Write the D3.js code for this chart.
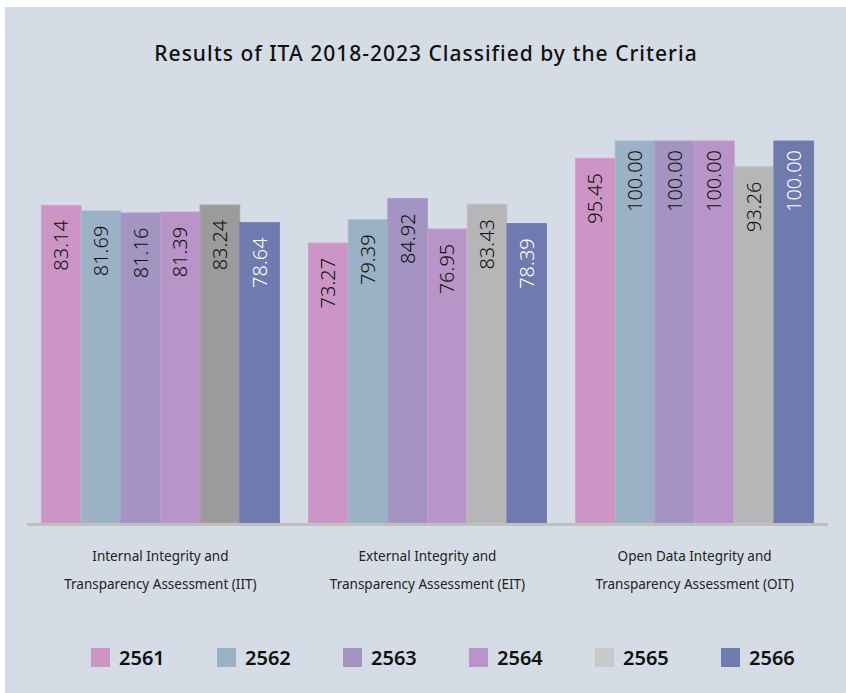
<!DOCTYPE html>
<html>
<head>
<meta charset="utf-8">
<script src="https://cdn.jsdelivr.net/npm/d3@7"></script>
<style>
  html, body { margin: 0; padding: 0; background: #ffffff; }
  svg { display: block; }
</style>
</head>
<body>
<svg id="chart" width="846" height="693"></svg>
<script>
// Assessment criteria (two-line labels)
const categories = ["IIT", "EIT", "OIT"];
const categoryLines = [
  ["Internal Integrity and", "Transparency Assessment (IIT)"],
  ["External Integrity and", "Transparency Assessment (EIT)"],
  ["Open Data Integrity and", "Transparency Assessment (OIT)"]
];
// Fiscal years (Buddhist Era)
const years = ["2561", "2562", "2563", "2564", "2565", "2566"];
// Scores per year, in category order IIT, EIT, OIT
const v2561 = [83.14, 73.27, 95.45];
const v2562 = [81.69, 79.39, 100.00];
const v2563 = [81.16, 84.92, 100.00];
const v2564 = [81.39, 76.95, 100.00];
const v2565 = [83.24, 83.43, 93.26];
const v2566 = [78.64, 78.39, 100.00];
const seriesValues = [v2561, v2562, v2563, v2564, v2565, v2566];

const seriesColors = ["#cd95c5", "#9bb1c5", "#a394c2", "#b894c9", "#b6b6b8", "#6f7aae"];
const legendColors = ["#cd95c5", "#9bb1c5", "#a394c2", "#b894c9", "#c9c9c9", "#6f7aae"];
const labelColors = ["#111", "#111", "#111", "#111", "#111", "#ffffff"];

const svg = d3.select("#chart");
const W = 846, H = 693;
const FONT = "'Noto Sans', sans-serif";

// panel background
svg.append("rect").attr("x", 5).attr("y", 7).attr("width", W - 5).attr("height", H - 7)
  .attr("fill", "#d6dce5");

// title
svg.append("text")
  .attr("x", 426).attr("y", 61)
  .attr("text-anchor", "middle")
  .attr("font-family", FONT)
  .attr("font-size", 21)
  .attr("font-weight", 500)
  .attr("letter-spacing", 1.0)
  .attr("fill", "#111")
  .text("Results of ITA 2018-2023 Classified by the Criteria");

const baseY = 523;
const x0 = d3.scaleBand().domain(categories).range([27, 828]).paddingInner(0.109).paddingOuter(0.054);
const x1 = d3.scaleBand().domain(years).range([0, x0.bandwidth()]);
const y = d3.scaleLinear().domain([0, 100]).range([baseY, 141]);

const data = [];
categories.forEach((c, ci) => {
  years.forEach((yr, si) => {
    data.push({ cat: c, ci, year: yr, si, value: seriesValues[si][ci] });
  });
});

// darker grey for the IIT 2565 bar
const barColor = d => (d.cat === "IIT" && d.year === "2565") ? "#9b9b9b" : seriesColors[d.si];

const bars = svg.append("g").selectAll("g").data(data).join("g");
bars.append("rect")
  .attr("x", d => x0(d.cat) + x1(d.year))
  .attr("y", d => y(d.value))
  .attr("width", x1.bandwidth())
  .attr("height", d => baseY - y(d.value))
  .attr("fill", barColor)
  .attr("stroke", d => d3.color(barColor(d)).brighter(0.15))
  .attr("stroke-width", 1);

// rotated value labels inside bars
bars.append("text")
  .attr("transform", d => {
    const cx = x0(d.cat) + x1(d.year) + x1.bandwidth() / 2 + 7;
    const ty = y(d.value) + 40;
    return `translate(${cx},${ty}) rotate(-90)`;
  })
  .attr("text-anchor", "middle")
  .attr("font-family", FONT)
  .attr("font-size", 20)
  .attr("font-weight", 300)
  .attr("fill", d => labelColors[d.si])
  .text(d => d.value.toFixed(2));

// baseline
svg.append("line")
  .attr("x1", 27).attr("x2", 828)
  .attr("y1", baseY + 1.5).attr("y2", baseY + 1.5)
  .attr("stroke", "#bfbfbf").attr("stroke-width", 3);

// category labels
const catG = svg.append("g");
categories.forEach((c, i) => {
  const cx = x0(c) + x0.bandwidth() / 2;
  categoryLines[i].forEach((line, li) => {
    catG.append("text")
      .attr("x", cx).attr("y", 561 + li * 28)
      .attr("text-anchor", "middle")
      .attr("font-family", FONT)
      .attr("font-size", 13.5)
      .attr("fill", "#222")
      .text(line);
  });
});

// legend
const legend = svg.append("g");
years.forEach((yr, i) => {
  const lx = 91 + i * 126;
  legend.append("rect")
    .attr("x", lx).attr("y", 648).attr("width", 19).attr("height", 19)
    .attr("fill", legendColors[i]);
  legend.append("text")
    .attr("x", lx + 28).attr("y", 665)
    .attr("font-family", FONT)
    .attr("font-size", 20)
    .attr("font-weight", 600)
    .attr("fill", "#111")
    .text(yr);
});
</script>
</body>
</html>
